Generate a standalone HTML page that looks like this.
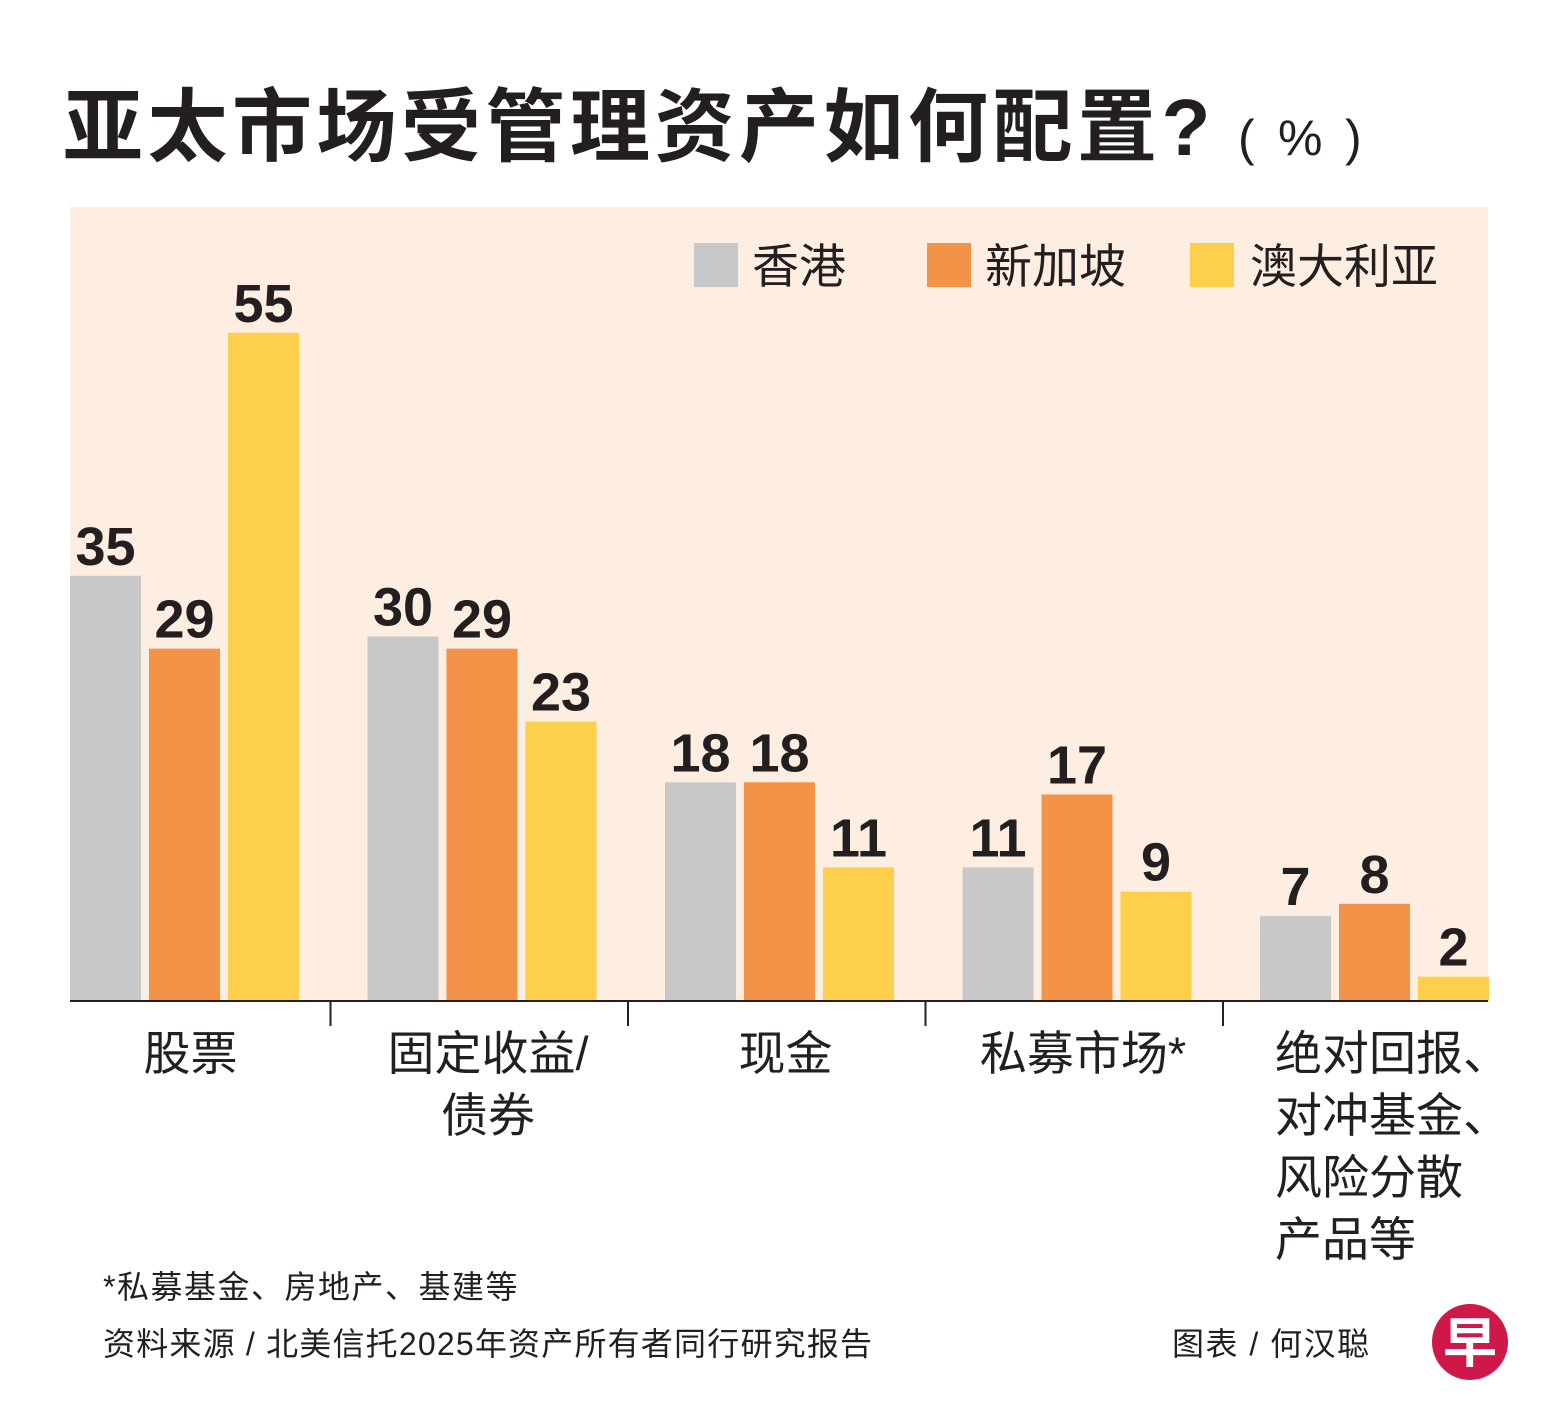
<!DOCTYPE html>
<html><head><meta charset="utf-8"><style>
html,body{margin:0;padding:0;background:#fff;}
body{width:1564px;height:1416px;position:relative;overflow:hidden;font-family:"Liberation Sans","Noto Sans CJK SC",sans-serif;}
svg text{font-family:"Liberation Sans","Noto Sans CJK SC",sans-serif;}
</style></head><body>
<svg id="chart" width="1564" height="1416">
<rect x="70" y="207" width="1418" height="794" fill="#fdeee1"/>
<text x="63" y="155" font-size="80" font-weight="bold" letter-spacing="4.5" fill="#231f20">亚太市场受管理资产如何配置?</text>
<text x="1238" y="155" font-size="50" fill="#231f20">(</text>
<text x="1278" y="155" font-size="50" fill="#231f20">%</text>
<text x="1345" y="155" font-size="50" fill="#231f20">)</text>
<g>
<rect x="694" y="243" width="44" height="44" fill="#c8c8c8"/>
<text x="752" y="283" font-size="47" fill="#231f20">香港</text>
<rect x="927" y="243" width="44" height="44" fill="#f39348"/>
<text x="985" y="283" font-size="47" fill="#231f20">新加坡</text>
<rect x="1190" y="243" width="44" height="44" fill="#fdcf4a"/>
<text x="1250" y="283" font-size="47" fill="#231f20">澳大利亚</text>
</g>
<g id="bars"></g>
<line x1="70" y1="1001" x2="1488" y2="1001" stroke="#231f20" stroke-width="2"/>
<g id="xlabels"></g>
<text x="103" y="1298" font-size="32" letter-spacing="1.5" fill="#231f20">*私募基金、房地产、基建等</text>
<text x="103" y="1355" font-size="32" letter-spacing="1.2" fill="#231f20">资料来源 / 北美信托2025年资产所有者同行研究报告</text>
<text x="1172" y="1355" font-size="32" letter-spacing="1.5" fill="#231f20">图表 / 何汉聪</text>
<g>
<circle cx="1470" cy="1342" r="38" fill="#d0174a"/>
<text x="1470" y="1362" font-size="54" font-weight="bold" fill="#fff" text-anchor="middle">早</text>
</g>
</svg>
<script>
const categories = [["股票"],["固定收益/","债券"],["现金"],["私募市场*"],["绝对回报、","对冲基金、","风险分散","产品等"]];
const seriesNames = ["香港","新加坡","澳大利亚"];
const hk = [35,30,18,11,7];
const sg = [29,29,18,17,8];
const au = [55,23,11,9,2];
const colors = ["#c8c8c8","#f39348","#fdcf4a"];
const NS="http://www.w3.org/2000/svg";
const baseY=1001, unit=12.15, x0=70, step=297.5, bw=71, gap=8;
const yScale=v=>baseY-v*unit;
const xBar=(g,s)=>x0+g*step+s*(bw+gap);
const bars=document.getElementById('bars');
const xl=document.getElementById('xlabels');
[hk,sg,au].forEach((arr,s)=>{
  arr.forEach((v,g)=>{
    const r=document.createElementNS(NS,'rect');
    r.setAttribute('x',xBar(g,s));r.setAttribute('y',yScale(v));
    r.setAttribute('width',bw);r.setAttribute('height',baseY-yScale(v));
    r.setAttribute('fill',colors[s]);
    
    
    bars.appendChild(r);
    const t=document.createElementNS(NS,'text');
    t.setAttribute('x',xBar(g,s)+bw/2);t.setAttribute('y',yScale(v)-11);
    t.setAttribute('text-anchor','middle');t.setAttribute('font-size','54');
    t.setAttribute('font-weight','bold');t.setAttribute('fill','#231f20');
    t.textContent=v;
    
    
    bars.appendChild(t);
  });
});
categories.forEach((lines,g)=>{
  if(g>0){
    const l=document.createElementNS(NS,'line');
    const tx=x0+g*step-37;
    l.setAttribute('x1',tx);l.setAttribute('x2',tx);l.setAttribute('y1',1001);l.setAttribute('y2',1026);
    l.setAttribute('stroke','#231f20');l.setAttribute('stroke-width','2');
    
    
    xl.appendChild(l);
  }
  const last=g===categories.length-1;
  lines.forEach((ln,i)=>{
    const t=document.createElementNS(NS,'text');
    const cx=x0+g*step+(3*bw+2*gap)/2+6;
    t.setAttribute('x', last?1275:cx);
    t.setAttribute('y',1070+i*62);
    if(!last) t.setAttribute('text-anchor','middle');
    t.setAttribute('font-size','47');t.setAttribute('fill','#231f20');
    t.textContent=ln;
    
    
    xl.appendChild(t);
  });
});
</script>
</body></html>
